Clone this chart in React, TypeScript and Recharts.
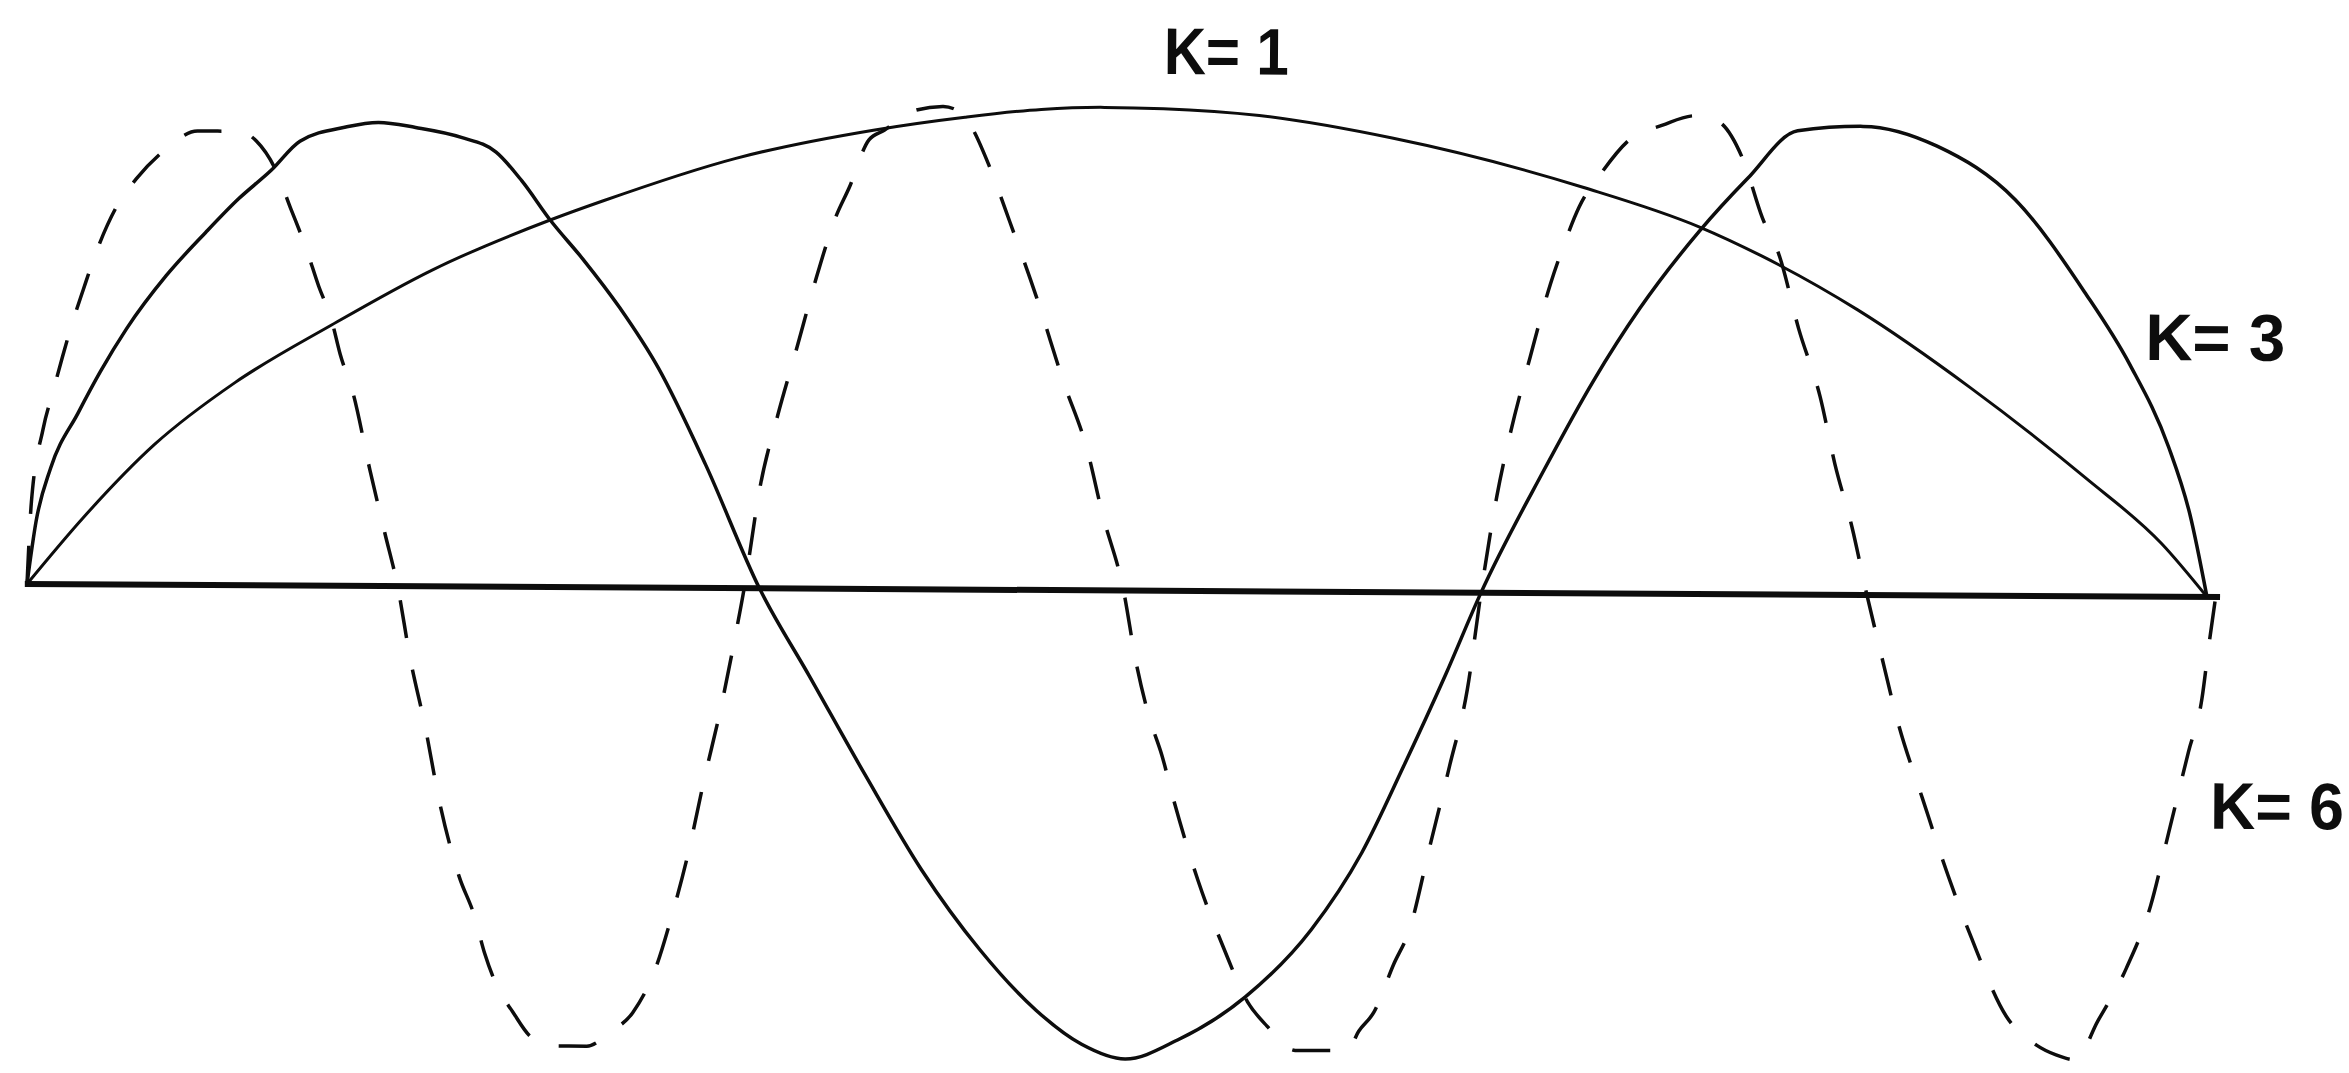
import { LineChart, Line, XAxis, YAxis, ReferenceLine, ReferenceDot } from "recharts"

// x: position along the span (0 = left support, 100 = right support)
// y: deflection, scaled so the K=1 crest is 1.0
const modeK1: [number, number][] = [
  [0, 0], [2.6, 0.14], [5.8, 0.29], [9.5, 0.42], [13.9, 0.54], [18.5, 0.655],
  [23.9, 0.76], [26.3, 0.8], [32.4, 0.89], [38.7, 0.95], [42.9, 0.978], [46.4, 0.995],
  [49.3, 1.0], [52.0, 0.998], [56.4, 0.985], [62.5, 0.94], [71.3, 0.84], [76.6, 0.76],
  [79.5, 0.7], [83.9, 0.59], [89.1, 0.43], [94.4, 0.245], [97.9, 0.11], [100, 0],
]

const modeK3: [number, number][] = [
  [0, 0], [0.4, 0.13], [1.05, 0.24], [2.3, 0.355], [3.3, 0.44], [4.5, 0.53],
  [6.3, 0.64], [8.1, 0.73], [9.6, 0.8], [11.1, 0.86], [12.4, 0.92], [14.5, 0.95],
  [16.0, 0.96], [17.7, 0.95], [19.8, 0.93], [21.4, 0.9], [22.6, 0.84], [23.9, 0.76],
  [25.4, 0.68], [27.1, 0.58], [28.9, 0.455], [31.1, 0.255], [33.6, 0], [35.9, -0.18],
  [38.5, -0.385], [41.1, -0.58], [43.8, -0.745], [46.4, -0.87], [48.5, -0.94], [50.5, -0.97],
  [52.9, -0.93], [56.0, -0.84], [59.0, -0.7], [61.3, -0.54], [63.2, -0.36], [65.1, -0.17],
  [66.7, 0], [69.5, 0.25], [71.8, 0.44], [73.9, 0.59], [76.6, 0.75], [78.8, 0.86],
  [81.1, 0.96], [84.1, 0.97], [87.5, 0.93], [91.1, 0.82], [94.3, 0.63], [96.4, 0.48],
  [98.2, 0.31], [99.2, 0.17], [100, 0],
]

const modeK6: [number, number][] = [
  [0, 0], [0.18, 0.17], [0.69, 0.32], [1.15, 0.4], [1.56, 0.47], [2.0, 0.54],
  [2.5, 0.61], [3.1, 0.69], [4.1, 0.79], [4.9, 0.84], [6.2, 0.9], [7.7, 0.94],
  [9.6, 0.94], [10.4, 0.92], [11.3, 0.86], [12.0, 0.78], [12.7, 0.7], [13.3, 0.62],
  [13.9, 0.55], [14.3, 0.48], [14.9, 0.4], [15.7, 0.24], [16.4, 0.11], [17.0, 0],
  [17.6, -0.15], [18.3, -0.29], [19.0, -0.45], [19.9, -0.6], [20.6, -0.68], [21.1, -0.76],
  [21.7, -0.83], [22.4, -0.88], [23.2, -0.93], [24.2, -0.95], [25.8, -0.95], [26.9, -0.92],
  [27.9, -0.88], [29.0, -0.78], [29.6, -0.69], [30.4, -0.55], [31.1, -0.4], [31.9, -0.24],
  [32.5, -0.1], [32.9, 0], [33.6, 0.21], [34.4, 0.36], [35.2, 0.49], [36.1, 0.64],
  [37.0, 0.77], [37.6, 0.83], [38.5, 0.93], [39.2, 0.95], [40.5, 0.99], [41.9, 1.0],
  [42.9, 0.98], [43.3, 0.95], [44.0, 0.88], [45.0, 0.76], [46.2, 0.61], [47.5, 0.43],
  [48.6, 0.29], [49.3, 0.16], [50.3, 0], [50.9, -0.15], [51.5, -0.26], [52.1, -0.34],
  [52.7, -0.44], [53.8, -0.6], [55.0, -0.74], [56.1, -0.85], [57.0, -0.9], [58.3, -0.95],
  [59.4, -0.95], [60.7, -0.95], [61.2, -0.91], [61.9, -0.87], [62.8, -0.77], [63.5, -0.7],
  [64.4, -0.53], [65.3, -0.36], [66.1, -0.2], [66.7, 0], [67.4, 0.2], [68.0, 0.33],
  [68.9, 0.49], [69.8, 0.64], [70.4, 0.72], [71.1, 0.8], [72.1, 0.87], [73.4, 0.94],
  [74.9, 0.97], [76.4, 0.99], [77.4, 0.98], [78.6, 0.9], [79.5, 0.78], [80.3, 0.7],
  [81.2, 0.55], [82.2, 0.41], [82.9, 0.27], [83.7, 0.14], [84.4, 0], [85.0, -0.11],
  [85.9, -0.27], [87.0, -0.42], [88.2, -0.58], [89.3, -0.71], [90.9, -0.87], [92.3, -0.93],
  [93.2, -0.95], [94.1, -0.96], [95.1, -0.88], [96.4, -0.77], [97.5, -0.64], [98.3, -0.49],
  [99.2, -0.32], [99.8, -0.21], [100.1, -0.1], [100.4, 0],
]

// the drawn axis runs a little past the supports
const axisStart = -0.1
const axisEnd = 100.6

const modeLabels = [
  { text: "K= 1", x: 52.0, y: 1.07, len: 125 },
  { text: "K= 3", x: 97.1, y: 0.49, len: 140 },
  { text: "K= 6", x: 100.2, y: -0.48, len: 134 },
]

const toPoints = (pairs: [number, number][]) => pairs.map(([x, y]) => ({ x, y }))

const ink = "#0d0d0d"

function ModeLabel({ cx, cy, text, len }: { cx?: number; cy?: number; text: string; len: number }) {
  if (cx == null || cy == null) return null
  return (
    <text
      x={cx}
      y={cy}
      fill={ink}
      fontFamily="'Liberation Sans', Arial, sans-serif"
      fontWeight="bold"
      fontSize={66}
      textLength={len}
      lengthAdjust="spacingAndGlyphs"
    >
      {text}
    </text>
  )
}

export default function App() {
  return (
    <div
      style={{
        position: "absolute",
        left: 0,
        top: 0,
        width: 2349,
        height: 1073,
        background: "#fff",
        transform: "rotate(0.34deg)",
        transformOrigin: "27px 584px",
      }}
    >
      <LineChart width={2349} height={1073} margin={{ top: 4.4, right: 120.2, bottom: 6, left: 22.64 }}>
        <XAxis type="number" dataKey="x" domain={[-0.2, 101]} hide />
        <YAxis type="number" dataKey="y" domain={[-1, 1.2]} hide />
        <ReferenceLine
          segment={[{ x: axisStart, y: 0 }, { x: axisEnd, y: 0 }]}
          stroke={ink}
          strokeWidth={6}
        />
        <Line
          data={toPoints(modeK1)}
          dataKey="y"
          type="monotone"
          stroke={ink}
          strokeWidth={3}
          dot={false}
          activeDot={false}
          isAnimationActive={false}
        />
        <Line
          data={toPoints(modeK3)}
          dataKey="y"
          type="monotone"
          stroke={ink}
          strokeWidth={3.5}
          dot={false}
          activeDot={false}
          isAnimationActive={false}
        />
        <Line
          data={toPoints(modeK6)}
          dataKey="y"
          type="monotone"
          stroke={ink}
          strokeWidth={3.5}
          strokeDasharray="38 32"
          dot={false}
          activeDot={false}
          isAnimationActive={false}
        />
        {modeLabels.map((l) => (
          <ReferenceDot
            key={l.text}
            x={l.x}
            y={l.y}
            r={0}
            shape={(p: any) => <ModeLabel cx={p.cx} cy={p.cy} text={l.text} len={l.len} />}
          />
        ))}
      </LineChart>
    </div>
  )
}
